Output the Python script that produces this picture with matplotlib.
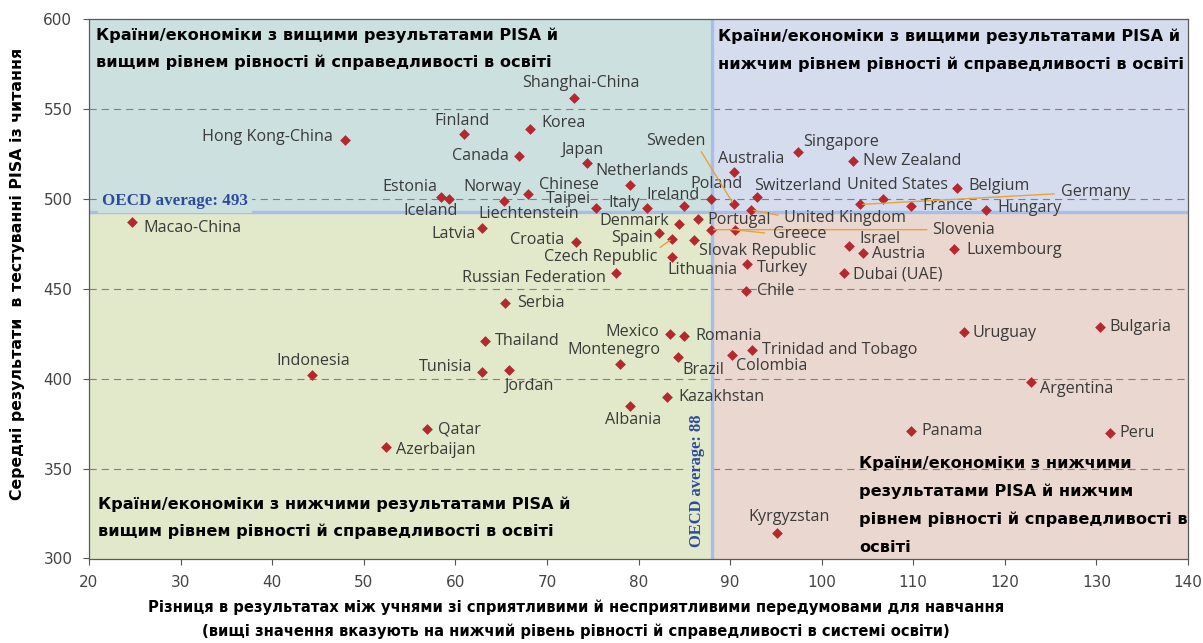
import matplotlib
matplotlib.use("Agg")
import matplotlib.pyplot as plt
from matplotlib.patches import Rectangle
import numpy as np

# ---------------- data ----------------
countries = ["Shanghai-China", "Korea", "Finland", "Hong Kong-China", "Singapore", "Canada",
             "New Zealand", "Japan", "Australia", "Netherlands", "Belgium", "Norway", "Estonia",
             "Switzerland", "Poland", "Iceland", "United States", "Liechtenstein", "Sweden",
             "Germany", "Ireland", "France", "Chinese Taipei", "Denmark", "United Kingdom",
             "Hungary", "Portugal", "Macao-China", "Italy", "Latvia", "Slovenia", "Greece",
             "Spain", "Czech Republic", "Slovak Republic", "Croatia", "Israel", "Luxembourg",
             "Austria", "Lithuania", "Turkey", "Dubai (UAE)", "Russian Federation", "Chile",
             "Serbia", "Bulgaria", "Uruguay", "Mexico", "Romania", "Thailand",
             "Trinidad and Tobago", "Colombia", "Brazil", "Montenegro", "Jordan", "Tunisia",
             "Indonesia", "Argentina", "Kazakhstan", "Albania", "Qatar", "Panama", "Peru",
             "Azerbaijan", "Kyrgyzstan"]

score_gap = [73.0, 68.2, 61.0, 47.9, 97.4, 67.0,
             103.4, 74.4, 90.4, 79.1, 114.8, 67.9, 58.4,
             92.9, 87.9, 59.3, 106.7, 65.3, 90.4,
             104.2, 85.0, 109.8, 75.4, 84.4, 92.3,
             117.9, 86.5, 24.7, 80.9, 62.9, 87.9, 90.5,
             82.2, 83.7, 86.1, 73.2, 103.0, 114.5,
             104.5, 83.7, 91.9, 102.4, 77.5, 91.7,
             65.4, 130.4, 115.5, 83.4, 85.0, 63.2,
             92.4, 90.2, 84.3, 78.0, 65.9, 62.9,
             44.4, 122.9, 83.1, 79.1, 56.9, 109.7, 131.5,
             52.4, 95.1]

reading = [556, 539, 536, 533, 526, 524,
           521, 520, 515, 508, 506, 503, 501,
           501, 500, 500, 500, 499, 497,
           497, 496, 496, 495, 486, 494,
           494, 489, 487, 495, 484, 483, 483,
           481, 478, 477, 476, 474, 472,
           470, 468, 464, 459, 459, 449,
           442, 429, 426, 425, 424, 421,
           416, 413, 412, 408, 405, 404,
           402, 398, 390, 385, 372, 371, 370,
           362, 314]

oecd_gap = 88
oecd_reading = 493
x_ticks = list(range(20, 141, 10))
y_ticks = list(range(300, 601, 50))
grid_levels = [350, 400, 450, 500, 550]

title_tl = ["Країни/економіки з вищими результатами PISA й",
            "вищим рівнем рівності й справедливості в освіті"]
title_tr = ["Країни/економіки з вищими результатами PISA й",
            "нижчим рівнем рівності й справедливості в освіті"]
title_bl = ["Країни/економіки з нижчими результатами PISA й",
            "вищим рівнем рівності й справедливості в освіті"]
title_br = ["Країни/економіки з нижчими",
            "результатами PISA й нижчим",
            "рівнем рівності й справедливості в",
            "освіті"]
y_label = "Середні результати  в тестуванні PISA із читання"
x_label_1 = "Різниця в результатах між учнями зі сприятливими й несприятливими передумовами для навчання"
x_label_2 = "(вищі значення вказують на нижчий рівень рівності й справедливості в системі освіти)"
oecd_h_text = "OECD average: 493"
oecd_v_text = "OECD average: 88"

# ---------------- style ----------------
W, H, DPI = 1203, 643, 100
C_TL, C_TR, C_BL, C_BR = "#CDE0E0", "#D5DCEE", "#E2E8CA", "#E9D7D0"
C_SEP = "#A8BEE8"
C_MARK = "#B4282E"
C_LEAD = "#E9A23B"
C_LAB = "#3A3A3A"
C_OECD = "#2D4B9B"
LABEL_FONT = "Open Sans"
BOLD_FONT = "DejaVu Sans"

# label placement: offset (pixels right, pixels up) from marker, horizontal alignment
label_pos = {
    "Shanghai-China": (6, 15, "center"), "Korea": (10.5, 6, "left"),
    "Finland": (-2, 13, "center"), "Hong Kong-China": (-12, 3, "right"),
    "Singapore": (5, 10, "left"), "Canada": (-11, 0, "right"),
    "New Zealand": (10, 0, "left"), "Japan": (-5, 13, "center"),
    "Australia": (17, 13, "center"), "Netherlands": (12, 14, "center"),
    "Belgium": (11, 2, "left"), "Norway": (-6, 6.6, "right"),
    "Estonia": (-3, 10, "right"), "Switzerland": (-2.7, 11.4, "left"),
    "Poland": (6, 14.7, "center"), "Iceland": (-18, -12.4, "center"),
    "United States": (14, 14, "center"), "Liechtenstein": (25, -13, "center"),
    "Sweden": (-58, 63.6, "center"), "Germany": (201, 12.6, "left"),
    "Ireland": (-11, 11, "center"), "France": (10.7, 0, "left"),
    "Chinese Taipei": (-27.5, 15.8, "center"), "Denmark": (-10, 3.6, "right"),
    "United Kingdom": (32.5, -8, "left"), "Hungary": (11.7, 1.7, "left"),
    "Portugal": (9, -0.7, "left"), "Macao-China": (11.7, -6, "left"),
    "Italy": (-7, 5, "right"), "Latvia": (-6, -5.7, "right"),
    "Slovenia": (221.7, 0, "left"), "Greece": (38.3, -4.3, "left"),
    "Spain": (-5.5, -4.4, "right"), "Czech Republic": (-15, -18.7, "right"),
    "Slovak Republic": (4.3, -10.7, "left"), "Croatia": (-11.5, 2.6, "right"),
    "Israel": (10.7, 6.4, "left"), "Luxembourg": (11.7, -0.7, "left"),
    "Austria": (9, -0.7, "left"), "Lithuania": (30, -13.3, "center"),
    "Turkey": (9.4, -4.3, "left"), "Dubai (UAE)": (9.3, -1.7, "left"),
    "Russian Federation": (-9.5, -5, "right"), "Chile": (11.3, 0, "left"),
    "Serbia": (12.2, 0, "left"), "Bulgaria": (9.3, -0.6, "left"),
    "Uruguay": (9.3, -0.6, "left"), "Mexico": (-10.6, 1.6, "right"),
    "Romania": (10.7, 0, "left"), "Thailand": (9.8, 0, "left"),
    "Trinidad and Tobago": (10, 0, "left"), "Colombia": (3.7, -11, "left"),
    "Brazil": (4.3, -12.3, "left"), "Montenegro": (-6.2, 14, "center"),
    "Jordan": (-4.7, -16, "left"), "Tunisia": (-9.4, 4.3, "right"),
    "Indonesia": (1.2, 14, "center"), "Argentina": (8.3, -7, "left"),
    "Kazakhstan": (11.7, 0, "left"), "Albania": (3, -14, "center"),
    "Qatar": (11.4, 0, "left"), "Panama": (11, 0, "left"), "Peru": (9.3, 0, "left"),
    "Azerbaijan": (10.6, -2.7, "left"), "Kyrgyzstan": (12.3, 16, "center"),
}
label_text = {"Chinese Taipei": "Chinese\nTaipei"}
# leader lines: relpos on the label box, shrink at label end (points)
leaders = {
    "Sweden": ((0.9, 0.0), 0), "Germany": ((0.0, 0.4), 3),
    "United Kingdom": ((0.0, 0.6), 2), "Slovenia": ((0.0, 0.5), 2),
    "Greece": ((0.0, 0.5), 4), "Czech Republic": ((1.0, 1.0), 0),
}

# ---------------- figure ----------------
fig = plt.figure(figsize=(W / DPI, H / DPI), dpi=DPI)
fig.patch.set_facecolor("white")
ax_l, ax_r, ax_t, ax_b = 89, 1188, 19.4, 558.5
ax = fig.add_axes([ax_l / W, 1 - ax_b / H, (ax_r - ax_l) / W, (ax_b - ax_t) / H])
x0, x1 = x_ticks[0], x_ticks[-1]
y0, y1 = y_ticks[0], y_ticks[-1]
ax.set_xlim(x0, x1)
ax.set_ylim(y0, y1)
renderer = fig.canvas.get_renderer()

# quadrant backgrounds
for (xa, xb, ya, yb, c) in [(x0, oecd_gap, oecd_reading, y1, C_TL),
                            (oecd_gap, x1, oecd_reading, y1, C_TR),
                            (x0, oecd_gap, y0, oecd_reading, C_BL),
                            (oecd_gap, x1, y0, oecd_reading, C_BR)]:
    ax.add_patch(Rectangle((xa, ya), xb - xa, yb - ya, facecolor=c, edgecolor="none", zorder=0))

for lv in grid_levels:
    ax.axhline(lv, color="#808080", lw=0.8, dashes=(6.5, 4.5), zorder=1)

ax.axhline(oecd_reading, color=C_SEP, lw=2.4, zorder=2)
ax.axvline(oecd_gap, color=C_SEP, lw=2.4, zorder=2)

ax.scatter(score_gap, reading, marker="D", s=30, color=C_MARK, linewidths=0, zorder=6)


def mean_fit(samples, family, weight="normal"):
    ratios = []
    for s, w in samples.items():
        t = fig.text(0, 0, s, fontsize=10, family=family, fontweight=weight)
        ratios.append(w / t.get_window_extent(renderer).width)
        t.remove()
    return 10 * float(np.mean(ratios))


# label font size fitted to the reference widths
label_fs = mean_fit({"Hong Kong-China": 133, "Russian Federation": 140,
                     "Trinidad and Tobago": 155, "Liechtenstein": 99,
                     "Slovak Republic": 118, "United Kingdom": 123}, LABEL_FONT)

for name, gx, ry in zip(countries, score_gap, reading):
    dx, dy, ha = label_pos[name]
    kw = {}
    if name in leaders:
        rp, sa = leaders[name]
        kw["arrowprops"] = dict(arrowstyle="-", color=C_LEAD, lw=1.0, shrinkA=sa,
                                shrinkB=2, relpos=rp)
    ax.annotate(label_text.get(name, name), xy=(gx, ry), xytext=(dx, dy),
                textcoords="offset pixels", ha=ha, va="center", fontsize=label_fs,
                family=LABEL_FONT, color=C_LAB, linespacing=0.8, zorder=7, **kw)


def fit(t, target, vertical=False):
    bb = t.get_window_extent(renderer)
    cur = bb.height if vertical else bb.width
    t.set_fontsize(t.get_fontsize() * target / cur)


# OECD average labels
th = ax.text(21.4, 499, oecd_h_text, ha="left", va="center", family="Liberation Serif",
             fontweight="bold", color=C_OECD, fontsize=11, zorder=3)
fit(th, 145)
th.set_bbox(dict(boxstyle="square,pad=0.25", facecolor=C_TL, edgecolor="none"))
tv = ax.text(86.4, 343, oecd_v_text, ha="center", va="center", rotation=90,
             family="Liberation Serif", fontweight="bold", color=C_OECD, fontsize=11, zorder=3)
fit(tv, 133, vertical=True)
tv.set_bbox(dict(boxstyle="square,pad=0.15", facecolor=C_BL, edgecolor="none"))

# quadrant titles, size fitted to several reference line widths
title_fs = mean_fit({title_tl[0]: 462, title_tl[1]: 449, title_tr[1]: 455,
                     title_bl[0]: 471, title_br[2]: 322, title_br[0]: 277},
                    BOLD_FONT, "bold")


def put_lines(lines, left_px, ys_px):
    for s, yp in zip(lines, ys_px):
        fig.text(left_px / W, 1 - yp / H, s, ha="left", va="center", fontsize=title_fs,
                 family=BOLD_FONT, fontweight="bold", color="black", zorder=8)


put_lines(title_tl, 96, [35, 62.7])
put_lines(title_tr, 718, [36.5, 64.5])
put_lines(title_bl, 98, [504, 531.7])
put_lines(title_br, 859, [463.3, 491.7, 519.3, 547.3])

# axis labels
yl = fig.text(18 / W, 1 - 274 / H, y_label, rotation=90, ha="center", va="center",
              fontsize=12, family=BOLD_FONT, fontweight="bold", color="black")
fit(yl, 448, vertical=True)
xl1 = fig.text(576 / W, 1 - 607 / H, x_label_1, ha="center", va="center", fontsize=12,
               family=BOLD_FONT, fontweight="bold", color="black")
fit(xl1, 850)
fig.text(576 / W, 1 - 631 / H, x_label_2, ha="center", va="center",
         fontsize=xl1.get_fontsize(), family=BOLD_FONT, fontweight="bold", color="black")

# axes cosmetics
ax.set_xticks(x_ticks)
ax.set_yticks(y_ticks)
ax.tick_params(direction="out", length=4, width=0.8, color="#555555", pad=8,
               labelsize=11, labelcolor="#444444")
for sp in ax.spines.values():
    sp.set_color("#5A5A5A")
    sp.set_linewidth(0.9)
    sp.set_zorder(9)

fig.savefig("out.png", dpi=DPI)
